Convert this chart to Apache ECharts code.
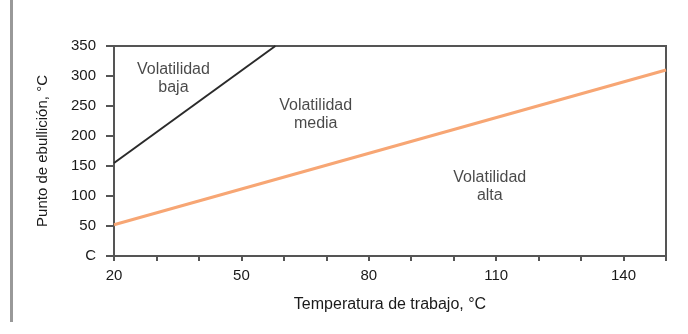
<!DOCTYPE html>
<html><head><meta charset="utf-8">
<script src="https://cdn.jsdelivr.net/npm/echarts@6/dist/echarts.min.js"></script>
<style>html,body{margin:0;padding:0;background:#fff}#c{width:688px;height:334px}</style>
</head><body><div id="c"></div>
<script>
const xTickLabels = [20, 50, 80, 110, 140];
const yTickLabels = ["C", "50", "100", "150", "200", "250", "300", "350"];
const lowVolLine = [[20, 155], [58, 350]];
const highVolLine = [[20, 52], [150, 310]];
const regionLabels = [
  {name: "Volatilidad\nbaja", x: 34, y: 295},
  {name: "Volatilidad\nmedia", x: 67.5, y: 235},
  {name: "Volatilidad\nalta", x: 108.5, y: 116}
];
const xName = "Temperatura de trabajo, °C";
const yName = "Punto de ebullición, °C";

const chart = echarts.init(document.getElementById('c'));
const font = "'Liberation Sans', Arial, sans-serif";
const axisCol = '#555';
const txt = '#1a1a1a';
chart.setOption({
  animation: false,
  grid: {left: 114, right: 22, top: 46, bottom: 78, show: true, borderColor: axisCol, borderWidth: 2},
  graphic: [{type: 'rect', shape: {x: 10, y: 0, width: 3, height: 322}, style: {fill: '#999'}}],
  xAxis: {
    type: 'value', min: 20, max: 150, interval: 10,
    name: xName, nameLocation: 'middle', nameGap: 41,
    nameTextStyle: {fontFamily: font, fontSize: 16, color: txt},
    axisLine: {lineStyle: {color: axisCol, width: 2}},
    axisTick: {length: 5, lineStyle: {color: axisCol, width: 2}},
    axisLabel: {fontFamily: font, fontSize: 15, color: txt, margin: 12,
      formatter: v => xTickLabels.includes(v) ? String(v) : ''},
    splitLine: {show: false}
  },
  yAxis: {
    type: 'value', min: 0, max: 350, interval: 50,
    name: yName, nameLocation: 'middle', nameGap: 64,
    nameTextStyle: {fontFamily: font, fontSize: 15, color: txt},
    axisLine: {lineStyle: {color: axisCol, width: 2}},
    axisTick: {length: 8, lineStyle: {color: axisCol, width: 2}},
    axisLabel: {fontFamily: font, fontSize: 15, color: txt, margin: 18,
      formatter: v => yTickLabels[v / 50]},
    splitLine: {show: false}
  },
  series: [
    {type: 'line', data: lowVolLine, symbol: 'none', lineStyle: {color: '#2a2a2a', width: 2}},
    {type: 'line', data: highVolLine, symbol: 'none', lineStyle: {color: '#F7A674', width: 3}},
    {type: 'scatter', data: regionLabels.map(d => ({name: d.name, value: [d.x, d.y]})),
      symbolSize: 0,
      label: {show: true, position: 'inside', formatter: p => p.name, fontFamily: font, fontSize: 16,
        color: txt, lineHeight: 18, align: 'center'}}
  ]
});
</script></body></html>
